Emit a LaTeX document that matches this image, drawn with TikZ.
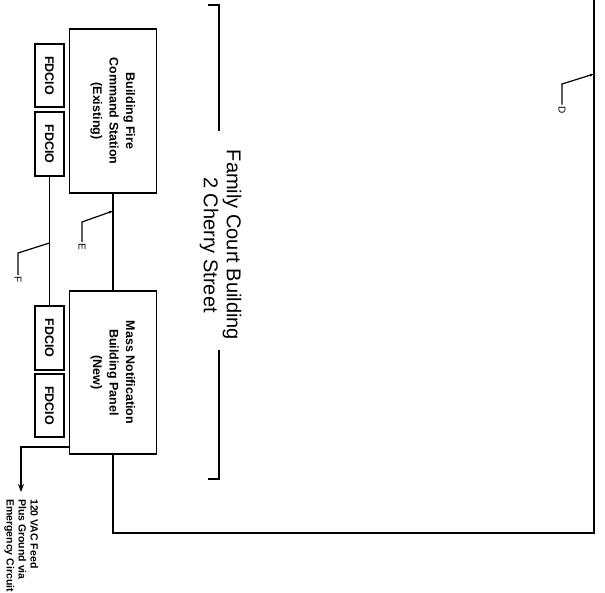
\documentclass[tikz,border=0pt]{standalone}
\usepackage{fontspec}
\setmainfont{Liberation Sans}
\usepackage{graphicx}
\usetikzlibrary{arrows.meta}
\begin{document}
\begin{tikzpicture}[x=1pt,y=-1pt,
  wire/.style={line width=1.6pt},
  box/.style={draw,line width=1.6pt,inner sep=0pt,align=center},
  leader/.style={line width=1.2pt},
  leadtip/.style={-{Latex[length=4pt,width=3pt]}},
  lbl/.style={inner sep=1.5pt,font=\fontsize{10}{12}\selectfont},
  boxtxt/.style={font=\fontsize{12.5}{16.5}\selectfont\bfseries}]
\useasboundingbox (0,0) rectangle (605,593);

% boxes
\node[box,boxtxt,minimum width=87pt,minimum height=164pt] (fire) at (113,111)
  {\rotatebox{-90}{\begin{tabular}{@{}c@{}}Building Fire\\Command Station\\(Existing)\end{tabular}}};
\node[box,boxtxt,minimum width=87pt,minimum height=163pt] (mnbp) at (113,372.5)
  {\rotatebox{-90}{\begin{tabular}{@{}c@{}}Mass Notification\\Building Panel\\(New)\end{tabular}}};
\node[box,boxtxt,minimum width=29pt,minimum height=63pt] (fd1) at (49.5,75.5) {\rotatebox{-90}{FDCIO}};
\node[box,boxtxt,minimum width=29pt,minimum height=64pt] (fd2) at (49.5,144) {\rotatebox{-90}{FDCIO}};
\node[box,boxtxt,minimum width=29pt,minimum height=64pt] (fd3) at (49.5,338) {\rotatebox{-90}{FDCIO}};
\node[box,boxtxt,minimum width=29pt,minimum height=63pt] (fd4) at (49.5,405.5) {\rotatebox{-90}{FDCIO}};

% title and bracket
\node[inner sep=0pt,font=\fontsize{20}{23}\selectfont] (title) at (220,245)
  {\rotatebox{-90}{\begin{tabular}{@{}c@{}}Family Court Building\\2 Cherry Street\end{tabular}}};
\coordinate (bt1) at (208,5); \coordinate (bt2) at (219,5); \coordinate (bt3) at (219,131);
\coordinate (bb1) at (219,350); \coordinate (bb2) at (219,479); \coordinate (bb3) at (208,479);
\draw[wire] (bt1) -- (bt2) -- (bt3);
\draw[wire] (bb1) -- (bb2) -- (bb3);

% wires
\draw[wire] (fire.south) -- (mnbp.north);
\draw[wire] (fd2.south) -- (fd3.north);
\coordinate (lc1) at (113,533); \coordinate (lc2) at (594,533); \coordinate (ltop) at (594,-2);
\draw[wire] (mnbp.south) -- (lc1) -- (lc2) -- (ltop);

% feed
\coordinate (fc) at (21,447); \coordinate (fa) at (21,492);
\draw[wire,-{Stealth[length=8pt,width=6pt]}] (mnbp.west |- fc) -- (fc) -- (fa);
\node[anchor=north,inner sep=0pt,font=\fontsize{10.5}{12}\selectfont\bfseries] (feedtxt) at (21,499)
  {\rotatebox{-90}{\begin{tabular}{@{}l@{}}120 VAC Feed\\Plus Ground via\\Emergency Circuit\end{tabular}}};

% leaders
\node[lbl] (Elab) at (82,247) {\rotatebox{-90}{E}};
\coordinate (Eknee) at (82,222); \coordinate (Etip) at (113,211);
\draw[leader,leadtip] (Elab.north) -- (Eknee) -- (Etip);

\node[lbl] (Flab) at (18,280) {\rotatebox{-90}{F}};
\coordinate (Fknee) at (18,253); \coordinate (Ftip) at (49.5,243);
\draw[leader] (Flab.north) -- (Fknee) -- (Ftip);

\node[lbl] (Dlab) at (562,110) {\rotatebox{-90}{D}};
\coordinate (Dknee) at (562,84); \coordinate (Dtip) at (594,74);
\draw[leader,leadtip] (Dlab.north) -- (Dknee) -- (Dtip);
\end{tikzpicture}
\end{document}
